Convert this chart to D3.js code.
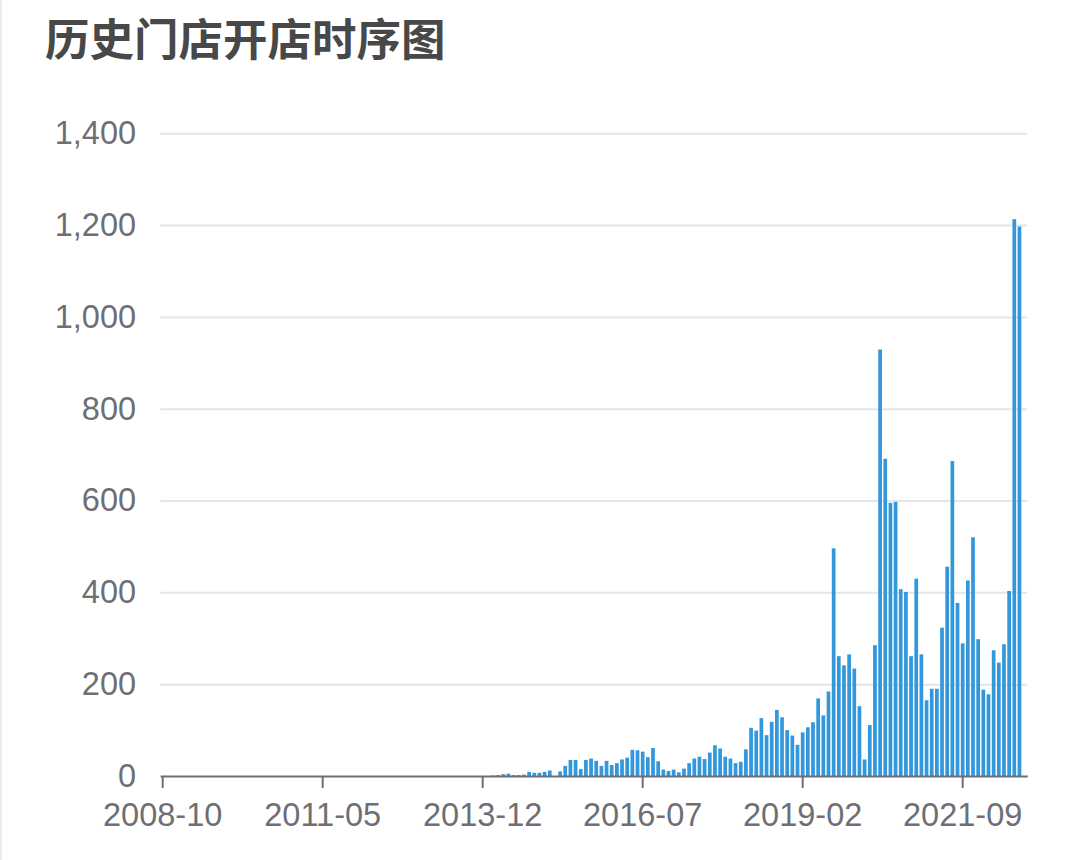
<!DOCTYPE html>
<html>
<head>
<meta charset="utf-8">
<script src="https://cdn.jsdelivr.net/npm/d3@7/dist/d3.min.js"></script>
<style>
  html, body { margin: 0; padding: 0; background: #fff; }
  svg { display: block; }
</style>
</head>
<body>
<svg id="chart" width="1080" height="860"></svg>
<script>
// ---- Data ----
const titleText = "历史门店开店时序图";
const startYear = 2008, startMonth = 10, monthCount = 168;
const categories = d3.range(monthCount).map(i => {
  const m = startMonth - 1 + i;
  const yr = startYear + Math.floor(m / 12);
  return yr + "-" + String((m % 12) + 1).padStart(2, "0");
});
const values = [
  // 2008-10 .. 2014-01 (64 months)
  0,0,0,0,0,0,0,0,0,0,0,0,0,0,0,0,
  0,0,0,0,0,0,0,0,0,0,0,0,0,0,0,0,
  0,0,0,0,0,0,0,0,0,0,0,0,0,0,0,0,
  0,0,0,0,0,0,0,0,0,0,0,0,0,0,0,0,
  // 2014-02 ..
  1,2,4,5,2,2,3,
  9,7,7,9,12,0,10,22,35,35,15,35,38,33,22,33,24,28,36,40,57,56,53,41,61,32,
  14,11,14,8,16,28,38,42,37,51,67,60,42,38,28,31,58,105,99,126,89,118,144,128,100,88,68,
  95,106,117,169,132,184,496,261,241,265,234,152,36,111,285,929,691,595,597,407,401,261,430,265,
  165,190,190,323,456,686,377,289,426,520,298,188,178,274,247,287,403,1213,1197,0
];
const xTickLabels = ["2008-10","2011-05","2013-12","2016-07","2019-02","2021-09"];
const yTicks = [0,200,400,600,800,1000,1200,1400];

// ---- Layout ----
const svg = d3.select("#chart");
const plotLeft = 160.1, plotRight = 1027.2, plotTop = 133.3, plotBottom = 776;
const labelFont = "'Liberation Sans', Arial, 'Noto Sans', sans-serif";

const x = d3.scaleBand().domain(categories).range([plotLeft, plotRight]).paddingInner(0.28).paddingOuter(0.14);
const y = d3.scaleLinear().domain([0, 1400]).range([plotBottom, plotTop]);

// faint page border
svg.append("line").attr("x1", 1).attr("x2", 1).attr("y1", 0).attr("y2", 860)
  .attr("stroke", "#ececec").attr("stroke-width", 2);

// title
svg.append("text").attr("x", 45).attr("y", 56)
  .attr("font-family", "'Noto Sans CJK SC', sans-serif")
  .attr("font-size", 44.5).attr("font-weight", "bold").attr("fill", "#484848")
  .text(titleText);

// grid lines
const grid = svg.append("g").attr("transform", `translate(${plotLeft},0)`)
  .call(d3.axisLeft(y).tickValues(yTicks.filter(v => v > 0)).tickSize(-(plotRight - plotLeft)).tickFormat(""));
grid.select(".domain").remove();
grid.selectAll(".tick line").attr("stroke", "#e3e6ef").attr("stroke-width", 2);

// y labels
const yAxis = svg.append("g").attr("transform", `translate(${plotLeft},0)`)
  .call(d3.axisLeft(y).tickValues(yTicks).tickSize(0).tickPadding(24).tickFormat(d3.format(",")));
yAxis.select(".domain").remove();
yAxis.selectAll("text").attr("font-family", labelFont).attr("font-size", 32.5).attr("fill", "#6e6f74");

// bars
svg.append("g").selectAll("rect").data(values).join("rect")
  .attr("x", (d, i) => x(categories[i]))
  .attr("width", x.bandwidth())
  .attr("y", d => y(d))
  .attr("height", d => plotBottom - y(d))
  .attr("fill", "#3398DB");

// x axis
const xAxis = svg.append("g").attr("transform", `translate(0,${plotBottom})`)
  .call(d3.axisBottom(x).tickValues(xTickLabels).tickSize(12).tickSizeOuter(0).tickPadding(15));
xAxis.select(".domain").attr("stroke", "#6e6f74").attr("stroke-width", 2);
xAxis.selectAll(".tick line").attr("stroke", "#6e6f74").attr("stroke-width", 2);
xAxis.selectAll("text").attr("font-family", labelFont).attr("font-size", 32.5).attr("fill", "#6e6f74");
</script>
</body>
</html>
